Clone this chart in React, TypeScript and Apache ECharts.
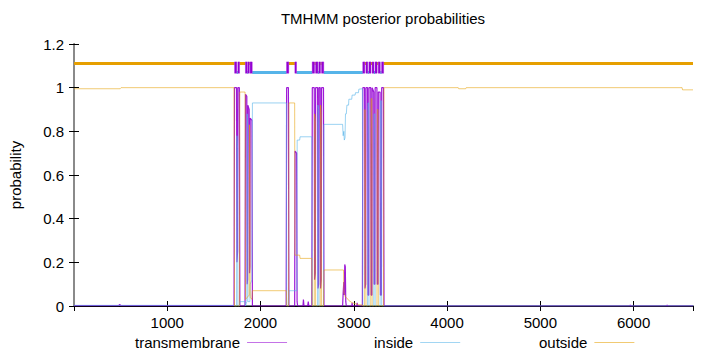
import React, { useEffect, useRef } from "react";
import * as echarts from "echarts";

const seqLength = 6637;
const seriesNames = ["transmembrane", "inside", "outside"];
const yTickMax = 1.2;

const tmPoints: [number, number][] = [
  [0, 0.002], [480, 0.002], [490, 0.008], [500, 0.002], [1120, 0.002], [1125, 0.004], [1130, 0.002], [1716, 0.002],
  [1721, 1.0], [1743, 1.0], [1747, 0.2], [1754, 0.25], [1757, 1.0], [1773, 1.0], [1778, 0.0], [1834, 0.0],
  [1839, 0.97], [1853, 0.96], [1857, 0.1], [1861, 0.12], [1864, 0.92], [1878, 0.9], [1882, 0.15], [1886, 0.18],
  [1889, 0.86], [1908, 0.85], [1913, 0.0],
  [2275, 0.0], [2280, 1.0], [2299, 1.0], [2304, 0.0], [2366, 0.0], [2370, 0.71], [2387, 0.7], [2392, 0.02],
  [2398, 0.0], [2455, 0.0], [2460, 0.03], [2466, 0.0], [2505, 0.0], [2512, 0.02], [2518, 0.0], [2550, 0.0],
  [2555, 1.0], [2576, 1.0], [2580, 0.12], [2588, 0.15], [2591, 1.0], [2612, 1.0], [2616, 0.08], [2623, 0.1],
  [2626, 1.0], [2640, 1.0], [2644, 0.08], [2651, 0.12], [2655, 1.0], [2675, 1.0], [2680, 0.0],
  [2880, 0.0], [2886, 0.06], [2893, 0.11], [2898, 0.05], [2903, 0.19], [2909, 0.18], [2914, 0.02], [2920, 0.0],
  [2978, 0.0], [2982, 0.015], [2986, 0.0], [3032, 0.0], [3036, 0.015], [3040, 0.0], [3092, 0.0],
  [3097, 1.0], [3116, 1.0], [3120, 0.08], [3127, 0.1], [3131, 1.0], [3148, 1.0], [3152, 0.05], [3160, 0.05],
  [3163, 1.0], [3182, 1.0], [3186, 0.05], [3194, 0.05], [3197, 1.0], [3214, 0.98], [3218, 0.1], [3226, 0.1],
  [3229, 1.0], [3248, 1.0], [3252, 0.1], [3260, 0.1], [3263, 0.98], [3282, 0.98], [3286, 0.05], [3296, 0.05],
  [3299, 1.0], [3318, 1.0], [3324, 0.0],
  [5960, 0.0], [5965, 0.004], [5970, 0.0], [6355, 0.0], [6360, 0.005], [6365, 0.0], [6637, 0.0],
];

const insidePoints: [number, number][] = [
  [0, 0.003], [1716, 0.003], [1721, 0.0], [1743, 0.0], [1747, 0.78], [1754, 0.72], [1757, 0.0], [1773, 0.0],
  [1778, 0.02], [1834, 0.02], [1839, 0.0], [1853, 0.02], [1857, 0.88], [1861, 0.86], [1864, 0.02], [1886, 0.02],
  [1889, 0.1], [1908, 0.12], [1913, 0.93], [2277, 0.93], [2281, 0.0], [2301, 0.0], [2305, 0.07], [2389, 0.07],
  [2393, 0.76], [2420, 0.76], [2424, 0.775], [2550, 0.775], [2555, 0.0], [2612, 0.0], [2616, 0.92], [2623, 0.9],
  [2626, 0.0], [2675, 0.0], [2680, 0.832], [2880, 0.832], [2886, 0.78], [2893, 0.8], [2898, 0.76], [2906, 0.77],
  [2911, 0.88], [2920, 0.88], [2926, 0.92], [2944, 0.92], [2947, 0.947], [2978, 0.947], [2982, 0.966],
  [3014, 0.966], [3018, 0.977], [3050, 0.977], [3054, 0.993], [3092, 0.995], [3097, 0.0], [3148, 0.0],
  [3152, 0.93], [3160, 0.93], [3163, 0.0], [3214, 0.0], [3218, 0.88], [3226, 0.88], [3229, 0.0], [3282, 0.0],
  [3286, 0.94], [3296, 0.94], [3299, 0.0], [6637, 0.0],
];

const outsidePoints: [number, number][] = [
  [0, 0.995], [495, 0.995], [505, 1.0], [1716, 1.0], [1721, 0.0], [1773, 0.0], [1778, 0.98], [1834, 0.98],
  [1839, 0.03], [1878, 0.05], [1882, 0.83], [1886, 0.8], [1889, 0.04], [1908, 0.03], [1913, 0.07], [2277, 0.07],
  [2281, 0.0], [2301, 0.0], [2305, 0.93], [2366, 0.93], [2369, 0.233], [2420, 0.233], [2424, 0.218], [2550, 0.218],
  [2555, 0.0], [2576, 0.0], [2580, 0.88], [2588, 0.85], [2591, 0.0], [2640, 0.0], [2644, 0.92], [2651, 0.88],
  [2655, 0.0], [2675, 0.0], [2680, 0.165], [2890, 0.165], [2894, 0.06], [2911, 0.04], [2925, 0.037], [2947, 0.025],
  [2982, 0.015], [3054, 0.006], [3092, 0.005], [3097, 0.0], [3116, 0.0], [3120, 0.9], [3127, 0.9], [3131, 0.0],
  [3182, 0.0], [3186, 0.95], [3194, 0.95], [3197, 0.0], [3248, 0.0], [3252, 0.9], [3260, 0.9], [3263, 0.0],
  [3318, 0.0], [3324, 1.0], [4120, 1.0], [4125, 0.995], [4200, 0.995], [4205, 1.0], [6520, 1.0], [6525, 0.99],
  [6637, 0.99],
];

// topology bar (predicted segments)
const tmSegments: [number, number][] = [
  [1722, 1745], [1757, 1775], [1838, 1855], [1862, 1880], [1888, 1911], [2279, 2303], [2368, 2386],
  [2554, 2579], [2590, 2615], [2625, 2643], [2654, 2678], [3096, 3118], [3130, 3150], [3162, 3184],
  [3196, 3216], [3228, 3250], [3262, 3284], [3298, 3320],
];
const insideSegments: [number, number][] = [
  [1745, 1757], [1855, 1862], [1911, 2279], [2386, 2554], [2615, 2625], [2678, 3096], [3150, 3162],
  [3216, 3228], [3284, 3298],
];
const outsideSegments: [number, number][] = [
  [1, 1722], [1775, 1838], [1880, 1888], [2303, 2368], [2579, 2590], [2643, 2654], [3118, 3130],
  [3184, 3196], [3250, 3262], [3320, 6637],
];
const bandOutsideY = 1.11;
const bandInsideY = 1.07;
const boxTop = 1.118;
const boxBottom = 1.066;

const TM_COLOR = "#9400d3";
const IN_COLOR = "#56b4e9";
const OUT_COLOR = "#e69f00";
const FONT = "Liberation Sans";
const FS = 15;

export default function App() {
  const ref = useRef<HTMLDivElement>(null);
  useEffect(() => {
    const chart = echarts.init(ref.current!, null, { renderer: "svg" });
    const legendItem = (name: string, color: string, left: number) => ({
      data: [{ name, itemStyle: { color } }],
      left,
      top: 335,
      padding: 0,
      align: "right",
      icon: "rect",
      itemWidth: 40,
      itemHeight: 1,
      selectedMode: false,
      textStyle: { fontFamily: FONT, fontSize: FS, color: "#000", padding: [0, 2, 0, 0] },
    });
    chart.setOption({
      animation: false,
      backgroundColor: "#fff",
      title: {
        text: "TMHMM posterior probabilities",
        left: 383,
        top: 11,
        padding: 0,
        textAlign: "center",
        textStyle: { fontFamily: FONT, fontSize: FS, fontWeight: "normal", color: "#000" },
      },
      legend: [
        legendItem(seriesNames[0], "rgba(148,0,211,0.55)", 135),
        legendItem(seriesNames[1], "rgba(86,180,233,0.55)", 374),
        legendItem(seriesNames[2], "rgba(230,159,0,0.55)", 539),
      ],
      grid: { left: 73, right: 27, top: 44, bottom: 46 },
      xAxis: [
        {
          type: "value",
          min: 0,
          max: seqLength,
          interval: 1000,
          position: "bottom",
          axisLine: { lineStyle: { color: "#6f7f8c", width: 2 } },
          axisTick: { inside: true, length: 5, lineStyle: { color: "#000" } },
          axisLabel: {
            showMinLabel: false,
            showMaxLabel: false,
            color: "#000",
            fontFamily: FONT,
            fontSize: FS,
            margin: 9,
            formatter: (v: number) => String(v),
          },
          splitLine: { show: false },
        },
        {
          type: "value",
          min: 0,
          max: seqLength,
          interval: 1000,
          position: "top",
          axisLine: { lineStyle: { color: "#000", width: 1 } },
          axisTick: { inside: true, length: 5, lineStyle: { color: "#000" } },
          axisLabel: { show: false },
          splitLine: { show: false },
        },
      ],
      yAxis: [
        {
          type: "value",
          min: 0,
          max: yTickMax,
          interval: 0.2,
          position: "left",
          name: "probability",
          nameLocation: "middle",
          nameGap: 51,
          nameTextStyle: { fontFamily: FONT, fontSize: FS, color: "#000" },
          axisLine: { lineStyle: { color: "#000", width: 1 } },
          axisTick: { inside: true, length: 5, lineStyle: { color: "#000" } },
          axisLabel: { color: "#000", fontFamily: FONT, fontSize: FS, margin: 10 },
          splitLine: { show: false },
        },
        {
          type: "value",
          min: 0,
          max: yTickMax,
          interval: 0.2,
          position: "right",
          axisLine: { lineStyle: { color: "#8a8a8a", width: 2 } },
          axisTick: { inside: true, length: 5, lineStyle: { color: "#000" } },
          axisLabel: { show: false },
          splitLine: { show: false },
        },
      ],
      series: [
        {
          name: seriesNames[0],
          type: "line",
          data: tmPoints,
          showSymbol: false,
          lineStyle: { color: TM_COLOR, width: 1.2, opacity: 0.9 },
          itemStyle: { color: TM_COLOR },
          z: 2,
        },
        {
          name: seriesNames[1],
          type: "line",
          data: insidePoints,
          showSymbol: false,
          lineStyle: { color: IN_COLOR, width: 1, opacity: 0.6 },
          itemStyle: { color: IN_COLOR },
          z: 3,
        },
        {
          name: seriesNames[2],
          type: "line",
          data: outsidePoints,
          showSymbol: false,
          lineStyle: { color: OUT_COLOR, width: 1, opacity: 0.55 },
          itemStyle: { color: OUT_COLOR },
          z: 4,
        },
        {
          name: "outsideBand",
          type: "lines",
          coordinateSystem: "cartesian2d",
          polyline: false,
          data: outsideSegments.map(([a, b]) => ({ coords: [[a, bandOutsideY], [b, bandOutsideY]] })),
          lineStyle: { color: OUT_COLOR, width: 3, opacity: 1 },
          z: 5,
        },
        {
          name: "insideBand",
          type: "lines",
          coordinateSystem: "cartesian2d",
          polyline: false,
          data: insideSegments.map(([a, b]) => ({ coords: [[a, bandInsideY], [b, bandInsideY]] })),
          lineStyle: { color: IN_COLOR, width: 3, opacity: 1 },
          z: 5,
        },
        {
          name: "tmBand",
          type: "custom",
          data: tmSegments,
          encode: { x: [0, 1] },
          renderItem: (params: any, api: any) => {
            const p1 = api.coord([api.value(0), boxTop]);
            const p2 = api.coord([api.value(1), boxBottom]);
            return {
              type: "rect",
              shape: { x: p1[0], y: p1[1], width: p2[0] - p1[0], height: p2[1] - p1[1] },
              style: { fill: TM_COLOR, stroke: "rgba(148,0,211,0.35)", lineWidth: 1 },
            };
          },
          z: 6,
        },
      ],
    });
    return () => chart.dispose();
  }, []);
  return <div ref={ref} style={{ position: "fixed", left: 0, top: 0, width: 720, height: 352 }} />;
}
